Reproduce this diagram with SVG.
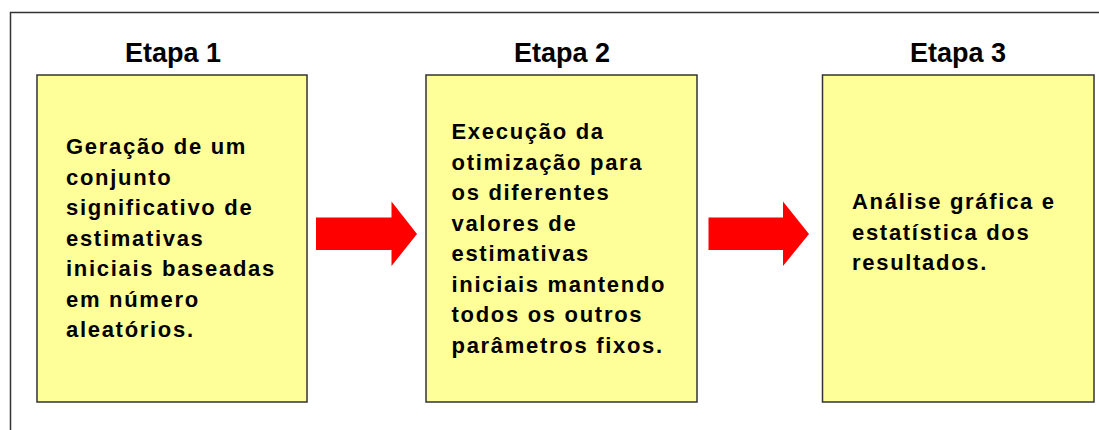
<svg xmlns="http://www.w3.org/2000/svg" width="1099" height="430" viewBox="0 0 1099 430">
<style>
.frame{fill:none;stroke:#333;stroke-width:1.5}
.box{fill:#FFFF99;stroke:#333;stroke-width:1.5}
.title{font-family:"Liberation Sans",Arial,sans-serif;font-weight:bold;font-size:27px;fill:#000;text-anchor:middle}
.body{font-family:"Liberation Sans",Arial,sans-serif;font-weight:bold;font-size:22px;letter-spacing:1.7px;fill:#000}
.arrow{fill:#FF0000}
</style>
<rect width="1099" height="430" fill="#fff"/>
<path class="frame" d="M10.5,431 V12.5 H1100"/>
<g id="stage1">
<text class="title" x="173" y="62">Etapa 1</text>
<rect class="box" x="37" y="75" width="270" height="327"/>
<text class="body" x="66">
<tspan x="66" y="154">Geração de um</tspan>
<tspan x="66" y="184.5">conjunto</tspan>
<tspan x="66" y="215">significativo de</tspan>
<tspan x="66" y="245.5">estimativas</tspan>
<tspan x="66" y="276">iniciais baseadas</tspan>
<tspan x="66" y="306.5">em número</tspan>
<tspan x="66" y="337">aleatórios.</tspan>
</text>
</g>
<g id="stage2">
<text class="title" x="562" y="62">Etapa 2</text>
<rect class="box" x="426" y="75" width="271" height="327"/>
<text class="body">
<tspan x="451.5" y="139.3">Execução da</tspan>
<tspan x="451.5" y="169.8">otimização para</tspan>
<tspan x="451.5" y="200.3">os diferentes</tspan>
<tspan x="451.5" y="230.8">valores de</tspan>
<tspan x="451.5" y="261.3">estimativas</tspan>
<tspan x="451.5" y="291.8">iniciais mantendo</tspan>
<tspan x="451.5" y="322.3">todos os outros</tspan>
<tspan x="451.5" y="352.8">parâmetros fixos.</tspan>
</text>
</g>
<g id="stage3">
<text class="title" x="958" y="62">Etapa 3</text>
<rect class="box" x="822.5" y="75" width="271.5" height="327"/>
<text class="body">
<tspan x="852" y="209.3">Análise gráfica e</tspan>
<tspan x="852" y="239.8">estatística dos</tspan>
<tspan x="852" y="270.3">resultados.</tspan>
</text>
</g>
<g id="connectors">
<polygon class="arrow" points="316,217.5 391.5,217.5 391.5,201.5 417,234 391.5,266 391.5,250 316,250"/>
<polygon class="arrow" points="708.5,217.5 783,217.5 783,201.5 809,234 783,266 783,250 708.5,250"/>
</g>
</svg>
